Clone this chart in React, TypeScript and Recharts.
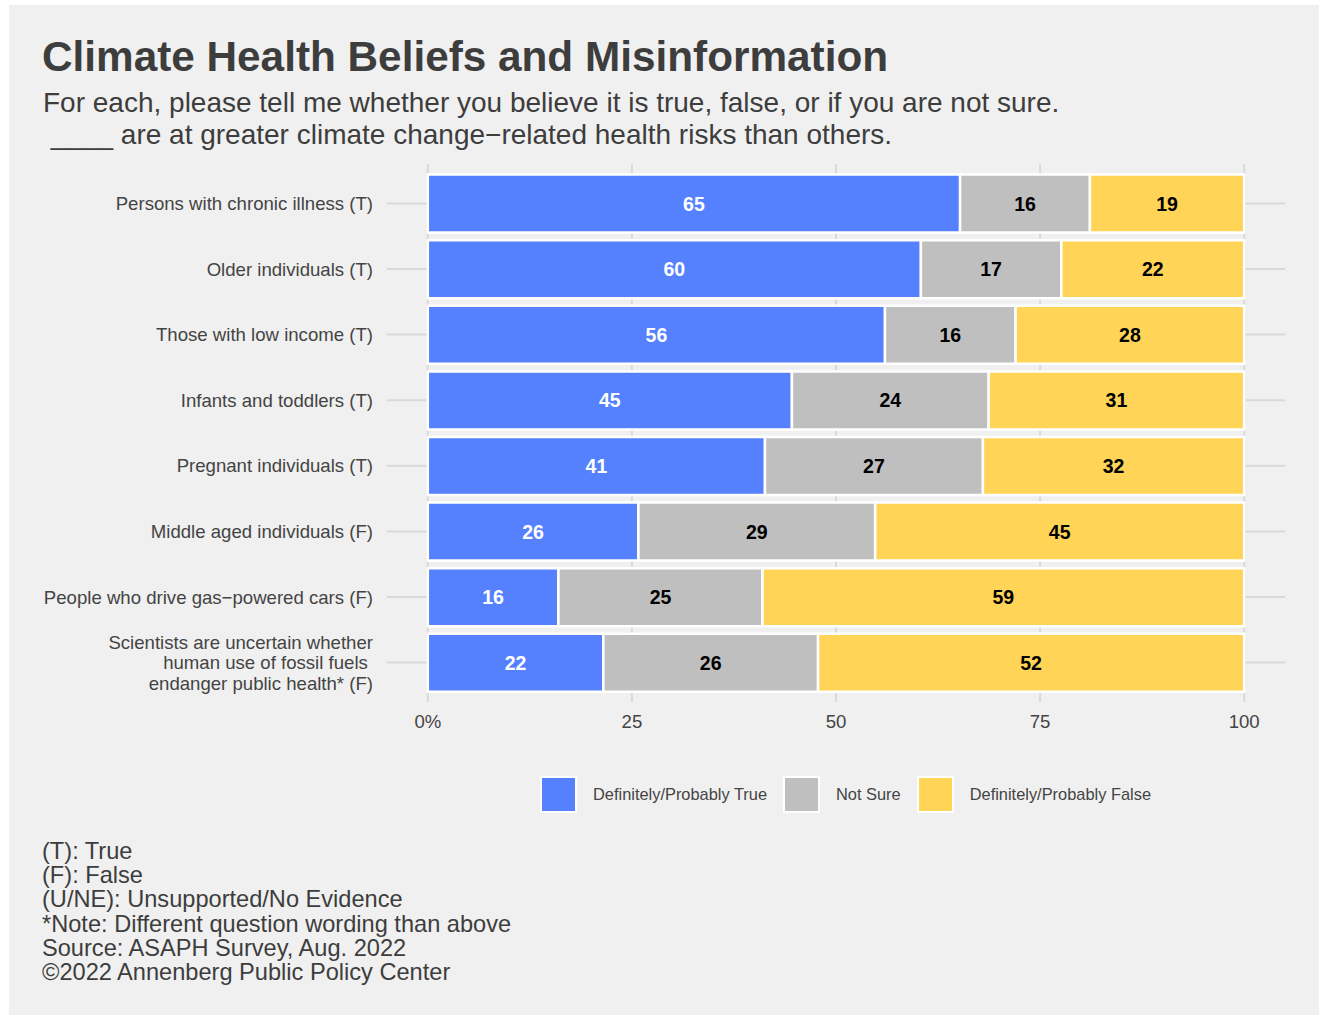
import React from "react";
import { BarChart, Bar, XAxis, YAxis, CartesianGrid, LabelList } from "recharts";

const categories = [
  "Persons with chronic illness (T)",
  "Older individuals (T)",
  "Those with low income (T)",
  "Infants and toddlers (T)",
  "Pregnant individuals (T)",
  "Middle aged individuals (F)",
  "People who drive gas\u2212powered cars (F)",
  "Scientists are uncertain whether\nhuman use of fossil fuels\u00a0\nendanger public health* (F)",
];
const trueValues = [65.2, 60.4, 56.0, 44.6, 41.3, 25.8, 16.0, 21.5];
const notSureValues = [15.9, 17.2, 16.0, 24.1, 26.7, 29.0, 25.0, 26.3];
const falseValues = [18.9, 22.4, 28.0, 31.3, 32.0, 45.2, 59.0, 52.2];

const xTicks = [0, 25, 50, 75, 100];
const xTickLabels = ["0%", "25", "50", "75", "100"];

const series = [
  { key: "t", name: "Definitely/Probably True", color: "#5581FF", text: "#ffffff" },
  { key: "ns", name: "Not Sure", color: "#BFBFBF", text: "#000000" },
  { key: "f", name: "Definitely/Probably False", color: "#FFD457", text: "#000000" },
];

const notes = [
  "(T): True",
  "(F): False",
  "(U/NE): Unsupported/No Evidence",
  "*Note: Different question wording than above",
  "Source: ASAPH Survey, Aug. 2022",
  "\u00a92022 Annenberg Public Policy Center",
];

const data = categories.map((name, i) => ({
  name,
  t: trueValues[i],
  ns: notSureValues[i],
  f: falseValues[i],
}));

const FONT = "'Liberation Sans', Arial, Helvetica, sans-serif";

function CategoryTick(props: any) {
  const { x, y, payload } = props;
  const lines = String(payload.value).split("\n");
  const lh = 20.3;
  const first = -((lines.length - 1) * lh) / 2 + 6.6;
  return (
    <text x={x} y={y} textAnchor="end" fill="#444444" fontSize={18.6} fontFamily={FONT}>
      {lines.map((l, i) => (
        <tspan key={i} x={x} dy={i === 0 ? first : lh}>
          {l}
        </tspan>
      ))}
    </text>
  );
}

export default function App() {
  return (
    <div
      style={{
        position: "absolute",
        left: 9,
        top: 5,
        width: 1310,
        height: 1010,
        background: "#F0F0F0",
        fontFamily: FONT,
        overflow: "hidden",
      }}
    >
      <svg width={1310} height={1010} style={{ position: "absolute", left: 0, top: 0 }}>
        <text x={33} y={65.5} fontSize={42.3} fontWeight="bold" fill="#3d3d3d" fontFamily={FONT}>
          Climate Health Beliefs and Misinformation
        </text>
        <text x={34} y={107} fontSize={28} fill="#3d3d3d" fontFamily={FONT}>
          For each, please tell me whether you believe it is true, false, or if you are not sure.
        </text>
        <text x={34} y={139} fontSize={28} fill="#3d3d3d" fontFamily={FONT} style={{ whiteSpace: "pre" }}>
          {" ____ are at greater climate change\u2212related health risks than others."}
        </text>
        {notes.map((n, i) => (
          <text key={i} x={33} y={854 + i * 24.2} fontSize={23.6} fill="#3d3d3d" fontFamily={FONT}>
            {n}
          </text>
        ))}
      </svg>

      <div style={{ position: "absolute", left: 0, top: 150 }}>
        <BarChart
          width={1310}
          height={587}
          data={data}
          layout="vertical"
          margin={{ top: 9, right: 34, bottom: 0, left: 0 }}
        >
          <CartesianGrid stroke="#D9D9D9" strokeWidth={2} syncWithTicks />
          <XAxis
            type="number"
            domain={[-5, 105]}
            ticks={xTicks}
            tickFormatter={(v: number) => xTickLabels[xTicks.indexOf(v)]}
            axisLine={false}
            tickLine={false}
            tickMargin={7}
            height={40}
            tick={{ fill: "#444444", fontSize: 18.6, fontFamily: FONT }}
          />
          <YAxis
            type="category"
            dataKey="name"
            width={378}
            axisLine={false}
            tickLine={false}
            tickMargin={8}
            padding={{ top: 6.6, bottom: 6.6 }}
            interval={0}
            tick={<CategoryTick />}
          />
          {series.map((s) => (
            <Bar
              key={s.key}
              dataKey={s.key}
              name={s.name}
              stackId="a"
              fill={s.color}
              stroke="#ffffff"
              strokeWidth={2.5}
              barSize={58}
              isAnimationActive={false}
            >
              <LabelList
                dataKey={s.key}
                position="center"
                fill={s.text}
                stroke="none"
                fontSize={19.5}
                fontWeight="bold"
                fontFamily={FONT}
                formatter={(v: any) => Math.round(Number(v))}
              />
            </Bar>
          ))}
        </BarChart>
      </div>

      <div
        style={{
          position: "absolute",
          left: 531,
          top: 771,
          display: "flex",
          alignItems: "center",
        }}
      >
        {series.map((s) => (
          <div key={s.key} style={{ display: "flex", alignItems: "center", marginRight: 16 }}>
            <div
              style={{
                width: 33,
                height: 33,
                background: s.color,
                border: "2px solid #ffffff",
              }}
            />
            <span style={{ marginLeft: 16, fontSize: 16.4, color: "#444444", whiteSpace: "nowrap" }}>
              {s.name}
            </span>
          </div>
        ))}
      </div>
    </div>
  );
}
